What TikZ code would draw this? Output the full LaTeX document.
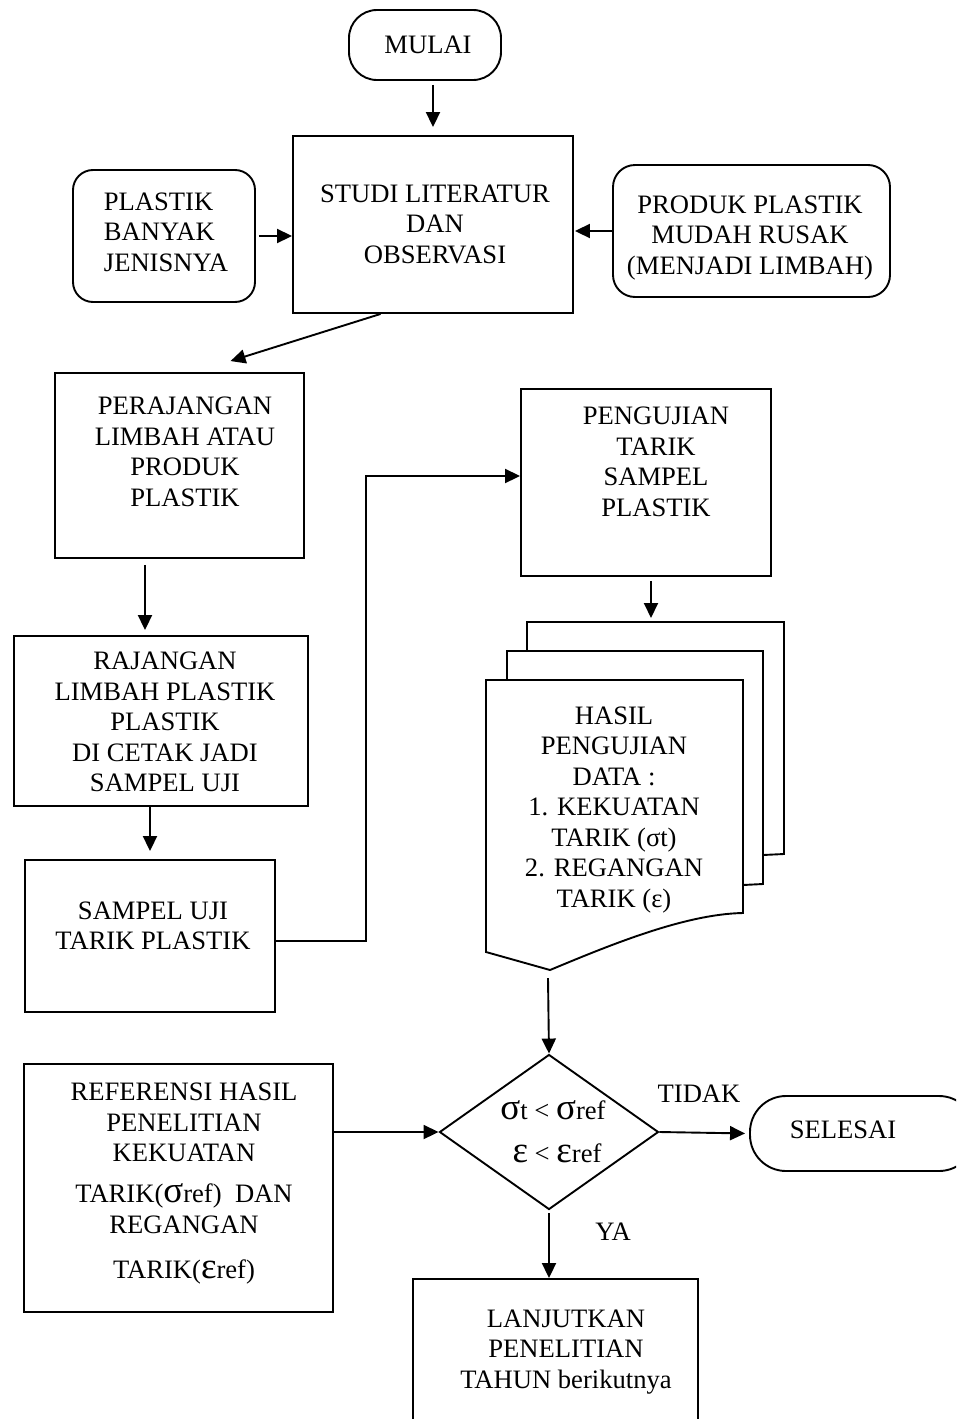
\documentclass[tikz,border=0pt]{standalone}
\usepackage{fontspec}
\setmainfont{Liberation Serif}
\usetikzlibrary{arrows.meta,shapes.geometric,calc}
\newcommand\bsym[1]{{\fontsize{37}{30}\selectfont #1}}
\begin{document}
\begin{tikzpicture}[x=1pt,y=-1pt,
 every node/.style={font=\fontsize{26.6}{30.5}\selectfont},
 box/.style={draw, line width=1.9pt, rectangle, inner sep=0pt},
 rbox/.style={box, rounded corners=#1},
 txt/.style={align=center, inner sep=0pt},
 arr/.style={line width=1.9pt, -{Triangle[length=15pt,width=14pt]}},
 ln/.style={line width=1.9pt}]
\useasboundingbox (0,0) rectangle (956,1419);
\clip (0,0) rectangle (956,1419);

% top row
\node[rbox=28pt, minimum width=152pt, minimum height=70pt] (mulai) at (425,45) {};
\node[txt] (tmulai) at (428,45) {MULAI};
\node[box, minimum width=280pt, minimum height=177pt] (studi) at (433,224.5) {};
\node[txt] (tstudi) at (435,224) {STUDI LITERATUR\\DAN\\OBSERVASI};
\node[rbox=20pt, minimum width=182pt, minimum height=132pt] (plastik) at (164,236) {};
\node[txt, align=left] (tplastik) at (166,232) {PLASTIK\\BANYAK\\JENISNYA};
\node[rbox=22pt, minimum width=277pt, minimum height=132pt] (produk) at (751.5,231) {};
\node[txt] (tproduk) at (750,238) {PRODUK PLASTIK\\MUDAH RUSAK\\(MENJADI LIMBAH)};

% left column
\node[box, minimum width=249pt, minimum height=185pt] (peraj) at (179.5,465.5) {};
\node[txt] (tperaj) at (185,452) {PERAJANGAN\\LIMBAH ATAU\\PRODUK\\PLASTIK};
\node[box, minimum width=294pt, minimum height=170pt] (rajang) at (161,721) {};
\node[txt] (trajang) at (165,722) {RAJANGAN\\LIMBAH PLASTIK\\PLASTIK\\DI CETAK JADI\\SAMPEL UJI};
\node[box, minimum width=250pt, minimum height=152pt] (sampel) at (150,936) {};
\node[txt] (tsampel) at (153,926) {SAMPEL UJI\\TARIK PLASTIK};

% right column
\node[box, minimum width=250pt, minimum height=187pt] (penguj) at (646,482.5) {};
\node[txt] (tpenguj) at (656,462) {PENGUJIAN\\TARIK\\SAMPEL\\PLASTIK};

% multidocument
\coordinate (doctop) at (651,622);
\coordinate (docbot) at (548,978);
\draw[ln] (527,651) -- (527,622) -- (784,622) -- (784,854) -- (763,855);
\draw[ln] (507,680) -- (507,651) -- (763,651) -- (763,884) -- (743,885);
\draw[ln, line join=miter] (486,952) -- (486,680) -- (743,680) -- (743,913)
   .. controls (685,914) and (610,945) .. (550,970) -- cycle;
\node[txt] (tdoc) at (614,810) {HASIL\\PENGUJIAN\\DATA :\\1. KEKUATAN\\TARIK (σt)\\2. REGANGAN\\TARIK (ε)};

% decision
\node[draw, line width=1.9pt, diamond, minimum width=219pt, minimum height=155pt, inner sep=0pt] (dia) at (549,1132) {};
\node[txt] (tdia1) at (553,1110) {\bsym{σ}t < \bsym{σ}ref};
\node[txt] (tdia2) at (557,1153) {\bsym{ε} < \bsym{ε}ref};
\node[txt] (tidak) at (699,1094) {TIDAK};
\node[txt] (ya) at (613,1232) {YA};

\node[rbox=36pt, minimum width=225pt, minimum height=75pt] (selesai) at (862.5,1133.5) {};
\node[txt] (tselesai) at (843,1130) {SELESAI};
\node[box, minimum width=285pt, minimum height=161pt] (lanjut) at (555.5,1359.5) {};
\node[txt] (tlanjut) at (566,1352) {LANJUTKAN\\PENELITIAN\\TAHUN berikutnya};
\node[box, minimum width=309pt, minimum height=248pt] (ref) at (178.5,1188) {};
\node[txt, anchor=north] (tref) at (184,1083) {REFERENSI HASIL\\PENELITIAN\\KEKUATAN\\[10pt]TARIK(\bsym{σ}ref)\ \ DAN\\[1pt]REGANGAN\\[14pt]TARIK(\bsym{ε}ref)};

% connectors
\coordinate (c1) at (145,0);
\coordinate (c2) at (150,0);
\coordinate (j1) at (366,941);
\coordinate (j2) at (366,476);
\draw[arr, shorten <=4pt, shorten >=8pt] (mulai.south -| studi.north) -- (studi.north);
\draw[arr, shorten <=3pt] (plastik.east) -- (studi.west |- plastik.east);
\draw[arr, shorten >=1pt] (produk.west) -- (studi.east |- produk.west);
\draw[arr] ($(studi.south west)!0.314!(studi.south east)$) -- ($(peraj.north)+(51,-11)$);
\draw[arr, shorten <=6pt, shorten >=5pt] (peraj.south -| c1) -- (rajang.north -| c1);
\draw[arr, shorten >=8pt] (rajang.south -| c2) -- (sampel.north -| c2);
\draw[arr, line join=miter] (sampel.east |- j1) -- (j1) -- (j2) -- (penguj.west |- j2);
\draw[arr, shorten <=4pt, shorten >=4pt] (penguj.south -| doctop) -- (doctop);
\draw[arr] (docbot) -- (dia.north);
\draw[arr] (ref.east |- dia.west) -- (dia.west);
\draw[arr, shorten >=4pt] (dia.east) -- (selesai.west);
\draw[arr, shorten <=3pt] (dia.south) -- (lanjut.north -| dia.south);
\end{tikzpicture}
\end{document}
